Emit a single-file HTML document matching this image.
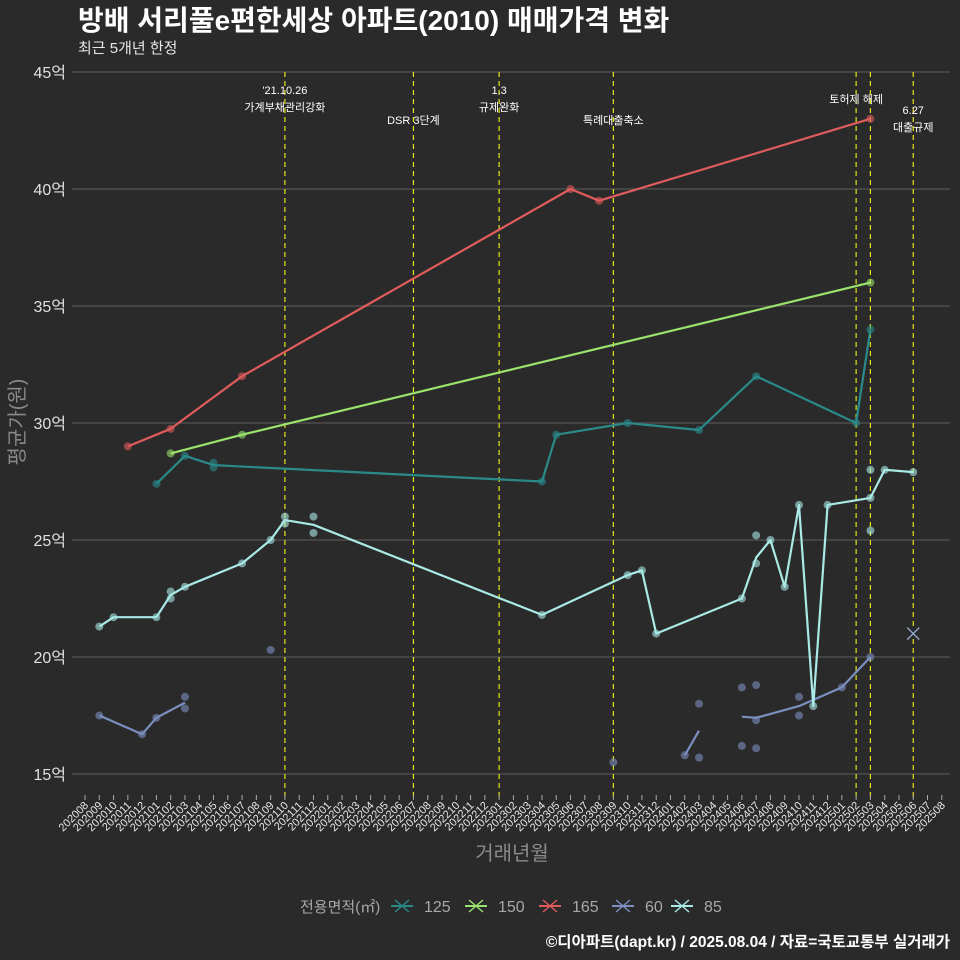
<!DOCTYPE html>
<html><head><meta charset="utf-8">
<style>
html,body{margin:0;padding:0;background:#2b2a2b;}
svg{display:block;font-family:"Liberation Sans","Noto Sans CJK KR",sans-serif;}
</style></head>
<body>
<svg id="chart" width="960" height="960" viewBox="0 0 960 960" xmlns="http://www.w3.org/2000/svg">
<rect width="960" height="960" fill="#2b2a2b"/>
<text x="78" y="30" font-size="28" font-weight="bold" fill="#ffffff">방배 서리풀e편한세상 아파트(2010) 매매가격 변화</text>
<text x="78" y="53" font-size="15" fill="#e6e6e6">최근 5개년 한정</text>
<text transform="translate(24,422) rotate(-90)" text-anchor="middle" font-size="20" fill="#8a8a8a">평균가(원)</text>
<text x="512" y="860" text-anchor="middle" font-size="20" fill="#8a8a8a">거래년월</text>
<text x="950" y="947" text-anchor="end" font-size="15.5" font-weight="bold" fill="#ffffff">©디아파트(dapt.kr) / 2025.08.04 / 자료=국토교통부 실거래가</text>
<g id="grid"></g><g id="events"></g><g id="series"></g><g id="xaxis"></g><g id="legend"></g>
</svg>
<script>
const months = [];
for (let y = 2020, m = 8; !(y === 2025 && m === 9); ) { months.push(String(y) + String(m).padStart(2,'0')); m++; if (m > 12) { m = 1; y++; } }
const yTicks = [15, 20, 25, 30, 35, 40, 45];
const eventMonths = ['202110','202207','202301','202309','202502','202503','202506'];
const eventLabels = [["'21.10.26","가계부채관리강화"],["DSR 3단계"],["1.3","규제완화"],["특례대출축소"],["토허제 해제"],[],["6.27","대출규제"]];
const seriesNames = ['125','150','165','60','85'];
const seriesColors = ['#2a8a8a','#9be36c','#e05c5c','#7b8fc0','#a9e9e6'];
const line125 = [['202101',27.4],['202103',28.6],['202105',28.2],['202304',27.5],['202305',29.5],['202310',30.0],['202403',29.7],['202407',32.0],['202502',30.0],['202503',34.0]];
const line150 = [['202102',28.7],['202107',29.5],['202503',36.0]];
const line165 = [['202011',29.0],['202102',29.75],['202107',32.0],['202306',40.0],['202308',39.5],['202503',43.0]];
const line60 = [['202009',17.5],['202012',16.7],['202101',17.4],['202103',18.05],null,['202402',15.8],['202403',16.85],null,['202406',17.45],['202407',17.4],['202410',17.9],['202501',18.7],['202503',20.0]];
const line85 = [['202009',21.3],['202010',21.7],['202101',21.7],['202102',22.65],['202103',23.0],['202107',24.0],['202109',25.0],['202110',25.85],['202112',25.65],['202304',21.8],['202310',23.5],['202311',23.7],['202312',21.0],['202406',22.5],['202407',24.25],['202408',25.0],['202409',23.0],['202410',26.5],['202411',17.9],['202412',26.5],['202503',26.8],['202504',28.0],['202506',27.9]];
const pts125 = [['202101',27.4],['202103',28.6],['202105',28.3],['202105',28.1],['202304',27.5],['202305',29.5],['202310',30.0],['202403',29.7],['202407',32.0],['202502',30.0],['202503',34.0]];
const pts150 = [['202102',28.7],['202107',29.5],['202503',36.0]];
const pts165 = [['202011',29.0],['202102',29.75],['202107',32.0],['202306',40.0],['202308',39.5],['202503',43.0]];
const pts60 = [['202009',17.5],['202012',16.7],['202101',17.4],['202103',18.3],['202103',17.8],['202109',20.3],['202309',15.5],['202402',15.8],['202403',18.0],['202403',15.7],['202406',18.7],['202406',16.2],['202407',18.8],['202407',17.3],['202407',16.1],['202410',18.3],['202410',17.5],['202501',18.7],['202503',20.0]];
const pts85 = [['202009',21.3],['202010',21.7],['202101',21.7],['202102',22.8],['202102',22.5],['202103',23.0],['202107',24.0],['202109',25.0],['202110',26.0],['202110',25.7],['202112',26.0],['202112',25.3],['202304',21.8],['202310',23.5],['202311',23.7],['202312',21.0],['202406',22.5],['202407',25.2],['202407',24.0],['202408',25.0],['202409',23.0],['202410',26.5],['202411',17.9],['202412',26.5],['202503',28.0],['202503',25.4],['202503',26.8],['202504',28.0],['202506',27.9]];
const crossPoint = ['202506', 21.0];

const NS = 'http://www.w3.org/2000/svg';
function xs(mo){ return 85 + 14.28 * months.indexOf(mo); }
function ys(v){ return 72 + (45 - v) * 23.4; }
function mk(tag, attrs, parent){ const e = document.createElementNS(NS, tag); for (const k in attrs) e.setAttribute(k, attrs[k]); parent.appendChild(e); return e; }

const grid = document.getElementById('grid');
yTicks.forEach(t => {
  const l = mk('line', {x1:72, x2:950, y1:ys(t), y2:ys(t), stroke:'#4e4d4e', 'stroke-width':1.6}, grid);
  
  
  const tx = mk('text', {x:66, y:ys(t)+6, 'text-anchor':'end', 'font-size':16, fill:'#e0e0e0'}, grid);
  tx.textContent = t + '억';
  
  
});

const ev = document.getElementById('events');
eventMonths.forEach((mo, i) => {
  const x = xs(mo);
  const l = mk('line', {x1:x, x2:x, y1:72, y2:800, stroke:'#e4e41a', 'stroke-width':1.2, 'stroke-dasharray':'5,4'}, ev);
  
  
  const lab = eventLabels[i];
  let y0 = lab.length === 2 ? 94 : 124;
  if (mo === '202502') y0 = 103;
  if (mo === '202506') y0 = 114;
  lab.forEach((s, j) => {
    const t = mk('text', {x:x, y:y0 + j*17, 'text-anchor':'middle', 'font-size':11, fill:'#ffffff'}, ev);
    t.textContent = s;
    
    
  });
});

const sg = document.getElementById('series');
const lines = [line125, line150, line165, line60, line85];
const pts = [pts125, pts150, pts165, pts60, pts85];
lines.forEach((ln, si) => {
  let d = '', start = true;
  ln.forEach(p => {
    if (p === null) { start = true; return; }
    d += (start ? 'M' : 'L') + xs(p[0]).toFixed(1) + ',' + ys(p[1]).toFixed(1);
    start = false;
  });
  const path = mk('path', {d:d, fill:'none', stroke:seriesColors[si], 'stroke-width':2.2, 'stroke-linejoin':'round'}, sg);
  
  
  pts[si].forEach(p => {
    const c = mk('circle', {cx:xs(p[0]), cy:ys(p[1]), r:4, fill:seriesColors[si], 'fill-opacity':0.6}, sg);
    
    
  });
});
{
  const cx = xs(crossPoint[0]), cy = ys(crossPoint[1]);
  const g = mk('g', {}, sg);
  
  
  mk('circle', {cx:cx, cy:cy, r:4, fill:'#1d2433'}, g);
  mk('path', {d:`M${cx-6},${cy-6}L${cx+6},${cy+6}M${cx-6},${cy+6}L${cx+6},${cy-6}`, stroke:'#9aa8c0', 'stroke-width':1.4}, g);
}

const xa = document.getElementById('xaxis');
months.forEach(mo => {
  const x = xs(mo);
  const tk = mk('line', {x1:x, x2:x, y1:795, y2:800, stroke:'#aaaaaa', 'stroke-width':1}, xa);
  
  
  const t = mk('text', {transform:`translate(${x+4},806) rotate(-45)`, 'text-anchor':'end', 'font-size':11, fill:'#e6e6e6'}, xa);
  t.textContent = mo;
  
  
});

const lg = document.getElementById('legend');
const lt = mk('text', {x:300, y:912, 'font-size':15, fill:'#a8a8a8'}, lg);
lt.textContent = '전용면적(㎡)';


const legX = [402, 476, 550, 623, 682];
seriesNames.forEach((n, i) => {
  const g = mk('g', {}, lg);
  
  
  const cx = legX[i], cy = 906, c = seriesColors[i];
  mk('line', {x1:cx-11, x2:cx+11, y1:cy, y2:cy, stroke:c, 'stroke-width':2}, g);
  mk('path', {d:`M${cx-7},${cy-6}L${cx+7},${cy+6}M${cx-7},${cy+6}L${cx+7},${cy-6}`, stroke:c, 'stroke-width':1.4}, g);
  const t = mk('text', {x:cx+22, y:912, 'font-size':16, fill:'#a8a8a8'}, g);
  t.textContent = n;
});
</script>
</body></html>
